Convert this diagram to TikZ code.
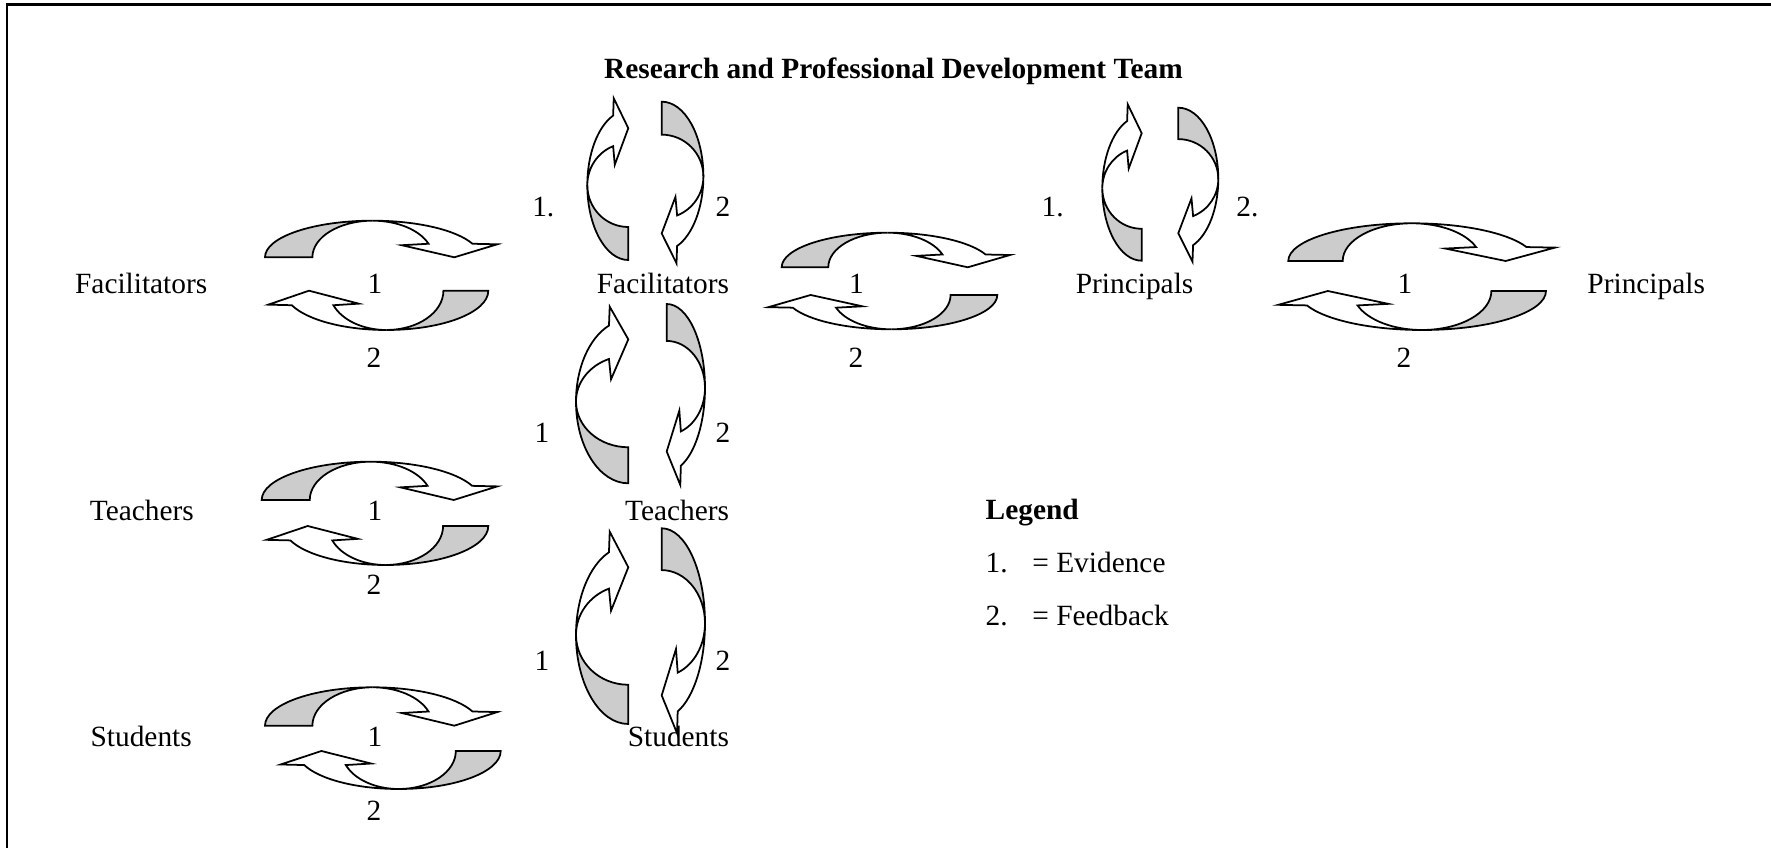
\documentclass[tikz,border=0pt]{standalone}
\usepackage{fontspec}
\setmainfont{Liberation Serif}
\usepackage{tikz}
\definecolor{backgray}{RGB}{204,204,204}

\begin{document}
\begin{tikzpicture}[x=0.01cm,y=0.01cm,font=\fontsize{8.35}{10}\selectfont,
    lbl/.style={anchor=base,inner sep=0pt},
    band/.style={draw=black,line width=0.5pt},
    pics/loop arrow/.style={code={
      % back of the band (grey), then the front with its head
      \fill[backgray,band] (0,0) arc[start angle=180,end angle=90,x radius=0.463,y radius=1]
          arc[start angle=90,end angle=180,x radius=0.259,y radius=1] -- cycle;
      \fill[white,band] (0.463,1) arc[start angle=90,end angle=21.7,x radius=0.463,y radius=1]
          -- (1,0.355) -- (0.815,0) -- (0.589,0.33) -- (0.704,0.37)
          arc[start angle=21.7,end angle=90,x radius=0.259,y radius=1] -- cycle;
    }}]
  \useasboundingbox (0,0) rectangle (1771,848);
  % ---- frame ----
  \draw[line width=0.65pt] (7.3,0) -- (7.3,843.5) -- (1771,843.5);
  % ---- title ----
  \node[lbl,font=\fontsize{8.35}{10}\selectfont\bfseries] (title) at (893.4,769)
      {Research and Professional Development Team};
  % ---- levels ----
  \node[lbl] (facL) at (141.2,554.7) {Facilitators};
  \node[lbl,anchor=base east] (facM) at (729.7,554.7) {Facilitators};
  \node[lbl] (prinM) at (1134.6,554.7) {Principals};
  \node[lbl] (prinR) at (1646.2,554.7) {Principals};
  \node[lbl] (teachL) at (141.8,327) {Teachers};
  \node[lbl,anchor=base east] (teachM) at (729.7,327) {Teachers};
  \node[lbl] (studL) at (141.2,101.3) {Students};
  \node[lbl,anchor=base east] (studM) at (729.7,101.3) {Students};
  % ---- facilitators <-> facilitators ----
  \pic[xscale=232.3,yscale=36.6] at (265,590.7) {loop arrow};
  \pic[rotate=180,xscale=220,yscale=39.3] at (488.3,557.3) {loop arrow};
  \node[lbl] (evFF) at (375,554.7) {1};
  \node[lbl] (fbFF) at (374,480) {2};
  % ---- facilitators <-> principals ----
  \pic[xscale=228.3,yscale=34.6] at (781.7,580.7) {loop arrow};
  \pic[rotate=180,xscale=229,yscale=34.3] at (997.3,553) {loop arrow};
  \node[lbl] (evFP) at (856.5,554.7) {1};
  \node[lbl] (fbFP) at (856,480) {2};
  % ---- principals <-> principals ----
  \pic[xscale=266.7,yscale=37.7] at (1288.3,587) {loop arrow};
  \pic[rotate=180,xscale=267.7,yscale=39] at (1546,557) {loop arrow};
  \node[lbl] (evPP) at (1405,554.7) {1};
  \node[lbl] (fbPP) at (1404,480) {2};
  % ---- teachers <-> teachers ----
  \pic[xscale=235.6,yscale=38.3] at (261.7,348) {loop arrow};
  \pic[rotate=180,xscale=221.6,yscale=39] at (488.3,322) {loop arrow};
  \node[lbl] (evTT) at (375,327) {1};
  \node[lbl] (fbTT) at (374,253) {2};
  % ---- students <-> students ----
  \pic[xscale=232.3,yscale=38.4] at (265,122.3) {loop arrow};
  \pic[rotate=180,xscale=220,yscale=38] at (500.7,97) {loop arrow};
  \node[lbl] (evSS) at (375,101.3) {1};
  \node[lbl] (fbSS) at (374,27) {2};
  % ---- research team <-> facilitators ----
  \pic[rotate=90,xscale=161.7,yscale=41] at (628.3,588) {loop arrow};
  \pic[rotate=-90,xscale=161.6,yscale=41.7] at (661.7,746.3) {loop arrow};
  \node[lbl] (evRF) at (543.3,631) {1.};
  \node[lbl] (fbRF) at (723,631) {2};
  % ---- research team <-> principals ----
  \pic[rotate=90,xscale=156.4,yscale=39.4] at (1141.7,587.3) {loop arrow};
  \pic[rotate=-90,xscale=154,yscale=40] at (1178.3,740.3) {loop arrow};
  \node[lbl] (evRP) at (1052.7,631) {1.};
  \node[lbl] (fbRP) at (1247.5,631) {2.};
  % ---- facilitators <-> teachers ----
  \pic[rotate=90,xscale=176.6,yscale=52.3] at (628.3,364.7) {loop arrow};
  \pic[rotate=-90,xscale=181,yscale=38.3] at (666.7,544) {loop arrow};
  \node[lbl] (evFT) at (542,405) {1};
  \node[lbl] (fbFT) at (723,405) {2};
  % ---- teachers <-> students ----
  \pic[rotate=90,xscale=192.3,yscale=52.3] at (628.3,124) {loop arrow};
  \pic[rotate=-90,xscale=205,yscale=43.3] at (661.7,319.7) {loop arrow};
  \node[lbl] (evTS) at (542,177) {1};
  \node[lbl] (fbTS) at (723,177) {2};
  % ---- legend ----
  \node[lbl,anchor=base west,font=\fontsize{8.35}{10}\selectfont\bfseries] (legend) at (985,328) {Legend};
  \node[lbl,anchor=base west] (legnumA) at (985,275) {1.};
  \node[lbl,anchor=base west] (legtxtA) at (1031.7,275) {= Evidence};
  \node[lbl,anchor=base west] (legnumB) at (985,222) {2.};
  \node[lbl,anchor=base west] (legtxtB) at (1031.7,222) {= Feedback};
\end{tikzpicture}
\end{document}
